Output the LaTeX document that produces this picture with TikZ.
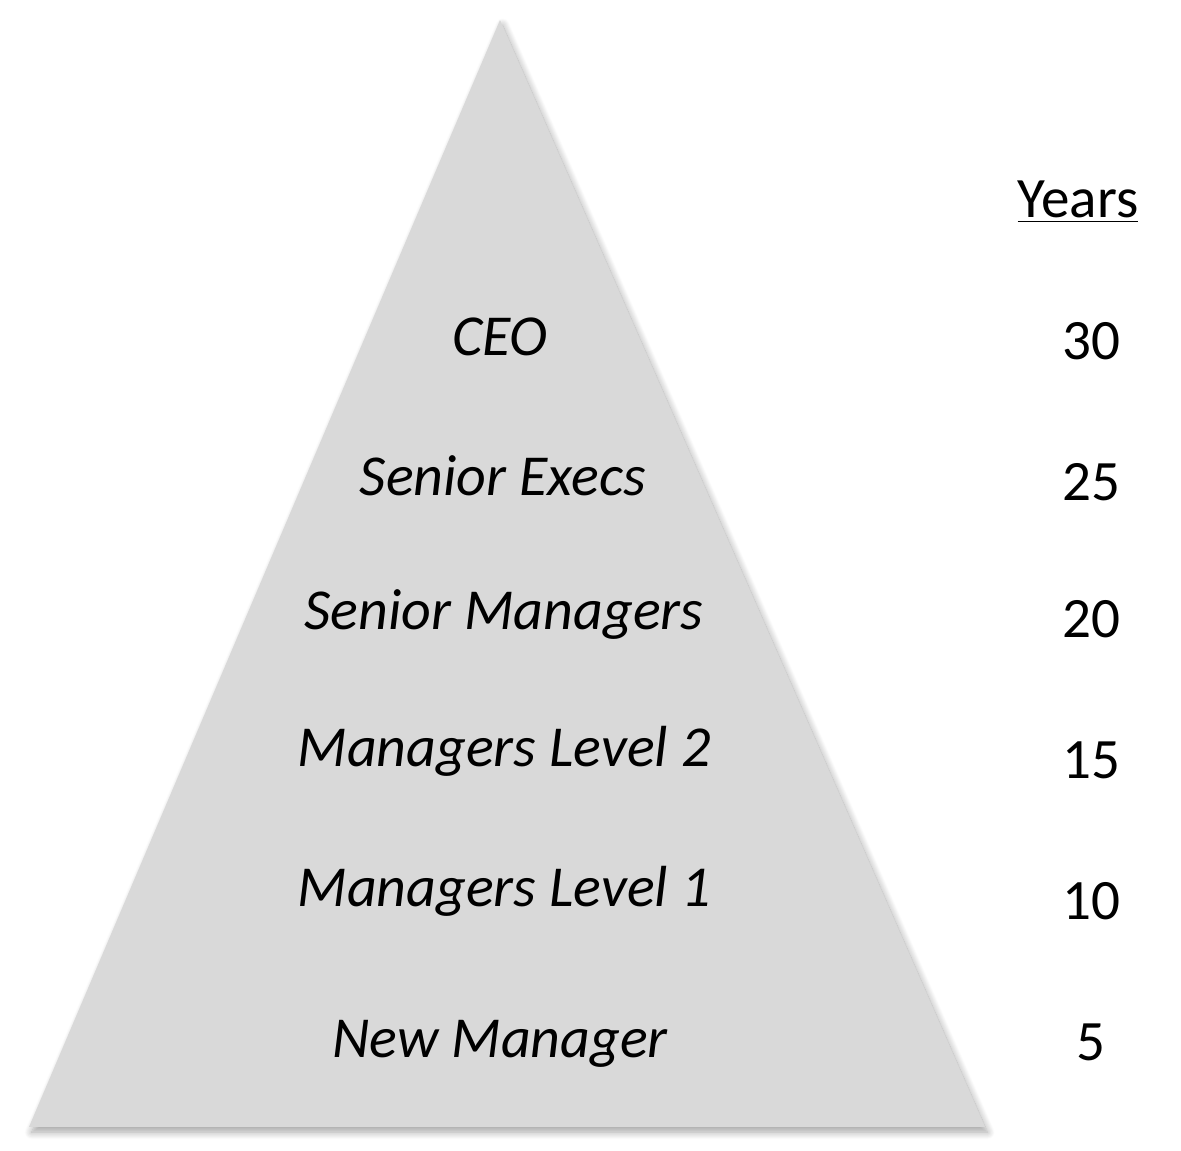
\documentclass[tikz,border=0pt]{standalone}
\usepackage{fontspec}
\setmainfont{Carlito}
\usetikzlibrary{shadows.blur}
\begin{document}
\begin{tikzpicture}[x = 0.02cm, y = -0.02cm]
	\useasboundingbox (0, 0) rectangle (1181, 1151);
	% Pyramid
	\fill[fill={rgb,255:red,217;green,217;blue,217}, blur shadow={shadow xshift=1.5pt, shadow yshift=-3pt, shadow blur steps=10, shadow blur radius=4pt, shadow opacity=35}] (500, 20) -- (985, 1127) -- (29, 1127) -- cycle;
	
	% Nodes
	\node[font=\fontsize{33}{40}\selectfont\itshape, anchor=base] (l1) at (500, 356) {CEO};
	\node[font=\fontsize{33}{40}\selectfont\itshape, anchor=base] (l2) at (503, 496) {Senior Execs};
	\node[font=\fontsize{33}{40}\selectfont\itshape, anchor=base] (l3) at (504, 630) {Senior Managers};
	\node[font=\fontsize{33}{40}\selectfont\itshape, anchor=base] (l4) at (504, 767) {Managers Level 2};
	\node[font=\fontsize{33}{40}\selectfont\itshape, anchor=base] (l5) at (504, 907) {Managers Level 1};
	\node[font=\fontsize{33}{40}\selectfont\itshape, anchor=base] (l6) at (500, 1058) {New Manager};
	
	\node[font=\fontsize{32.5}{39}\selectfont, anchor=base] (yrs) at (1078, 218) {\underline{Years}};
	\node[font=\fontsize{32.5}{39}\selectfont, anchor=base] (y1) at (1091, 360) {30};
	\node[font=\fontsize{32.5}{39}\selectfont, anchor=base] (y2) at (1091, 501) {25};
	\node[font=\fontsize{32.5}{39}\selectfont, anchor=base] (y3) at (1091, 638) {20};
	\node[font=\fontsize{32.5}{39}\selectfont, anchor=base] (y4) at (1091, 779) {15};
	\node[font=\fontsize{32.5}{39}\selectfont, anchor=base] (y5) at (1091, 920) {10};
	\node[font=\fontsize{32.5}{39}\selectfont, anchor=base] (y6) at (1091, 1061) {5};
\end{tikzpicture}
\end{document}
